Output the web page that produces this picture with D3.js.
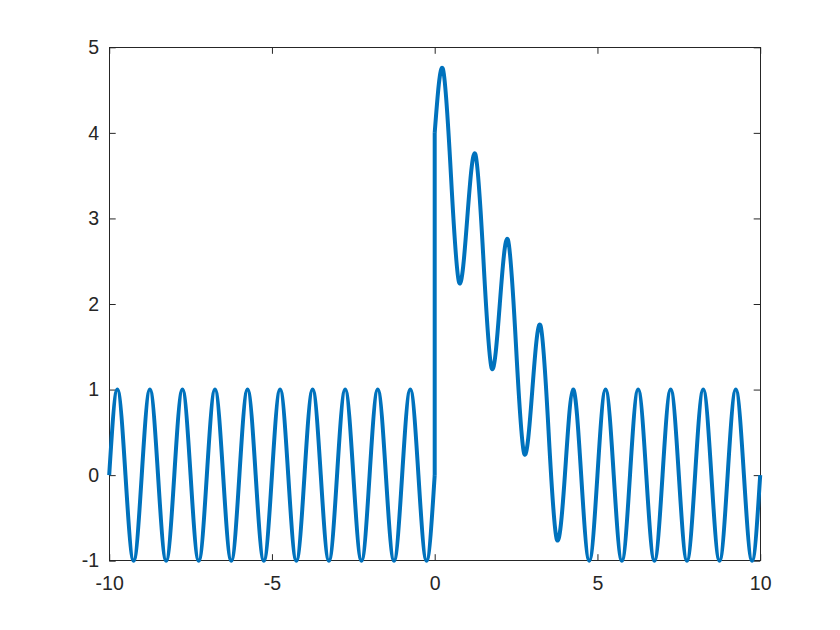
<!DOCTYPE html>
<html><head><meta charset="utf-8">
<script src="https://cdn.jsdelivr.net/npm/d3@7"></script>
<style>html,body{margin:0;padding:0;background:#fff;}svg{display:block;}</style>
</head><body>
<script>
// x < 0 branch (read at quarter-unit steps)
const xLeft = [-10,-9.75,-9.5,-9.25,-9,-8.75,-8.5,-8.25,-8,-7.75,-7.5,-7.25,-7,-6.75,-6.5,-6.25,-6,-5.75,-5.5,-5.25,-5,-4.75,-4.5,-4.25,-4,-3.75,-3.5,-3.25,-3,-2.75,-2.5,-2.25,-2,-1.75,-1.5,-1.25,-1,-0.75,-0.5,-0.25,0];
const yLeft = [0,1,0,-1,0,1,0,-1,0,1,0,-1,0,1,0,-1,0,1,0,-1,0,1,0,-1,0,1,0,-1,0,1,0,-1,0,1,0,-1,0,1,0,-1,0];
// x >= 0 branch
const xRight = [0,0.25,0.5,0.75,1,1.25,1.5,1.75,2,2.25,2.5,2.75,3,3.25,3.5,3.75,4,4.25,4.5,4.75,5,5.25,5.5,5.75,6,6.25,6.5,6.75,7,7.25,7.5,7.75,8,8.25,8.5,8.75,9,9.25,9.5,9.75,10];
const yRight = [4,4.75,3.5,2.25,3,3.75,2.5,1.25,2,2.75,1.5,0.25,1,1.75,0.5,-0.75,0,1,0,-1,0,1,0,-1,0,1,0,-1,0,1,0,-1,0,1,0,-1,0,1,0,-1,0];
const xTicks = [-10,-5,0,5,10];
const yTicks = [-1,0,1,2,3,4,5];

const W = 840, H = 630;
const L = 109.2, R = 760.2, T = 47.3, B = 560.7;
const svg = d3.select("body").append("svg").attr("width", W).attr("height", H);
const x = d3.scaleLinear().domain([-10, 10]).range([L, R]);
const y = d3.scaleLinear().domain([-1, 5]).range([B, T]);
const axCol = "#262626";
const font = "'Liberation Sans', Arial, Helvetica, sans-serif";
const fs = 19.5;
const fmt = d => String(d);

// box
svg.append("rect").attr("x", L).attr("y", T).attr("width", R - L).attr("height", B - T)
  .attr("fill", "#fff").attr("stroke", axCol).attr("stroke-width", 1).attr("shape-rendering", "crispEdges");

const tl = 6.5;
function styleAxis(g) {
  g.select(".domain").remove();
  g.selectAll("line").attr("stroke", axCol).attr("stroke-width", 1);
  g.selectAll("text").attr("fill", axCol).attr("font-family", font).attr("font-size", fs);
}
// bottom axis (inward ticks)
svg.append("g").attr("transform", `translate(0,${B})`)
  .call(d3.axisBottom(x).tickValues(xTicks).tickSizeInner(-tl).tickSizeOuter(0).tickPadding(15.5).tickFormat(fmt))
  .call(styleAxis);
// top ticks
svg.append("g").attr("transform", `translate(0,${T})`)
  .call(d3.axisTop(x).tickValues(xTicks).tickSizeInner(-tl).tickSizeOuter(0).tickFormat(""))
  .call(styleAxis);
// left axis
svg.append("g").attr("transform", `translate(${L},0)`)
  .call(d3.axisLeft(y).tickValues(yTicks).tickSizeInner(-tl).tickSizeOuter(0).tickPadding(10).tickFormat(fmt))
  .call(styleAxis);
// right ticks
svg.append("g").attr("transform", `translate(${R},0)`)
  .call(d3.axisRight(y).tickValues(yTicks).tickSizeInner(-tl).tickSizeOuter(0).tickFormat(""))
  .call(styleAxis);

const line = d3.line().x(d => x(d[0])).y(d => y(d[1])).curve(d3.curveNatural);
const lineStraight = d3.line().x(d => x(d[0])).y(d => y(d[1]));
const leftPts = xLeft.map((v, i) => [v, yLeft[i]]);
const rightPts = xRight.map((v, i) => [v, yRight[i]]);
const col = "#0072BD", lw = 4;
const g = svg.append("g").attr("fill", "none").attr("stroke", col).attr("stroke-width", lw).attr("stroke-linejoin", "round");
g.append("path").attr("d", line(leftPts));
g.append("path").attr("d", lineStraight([leftPts[leftPts.length - 1], rightPts[0]]));
g.append("path").attr("d", line(rightPts));
</script>
</body></html>
